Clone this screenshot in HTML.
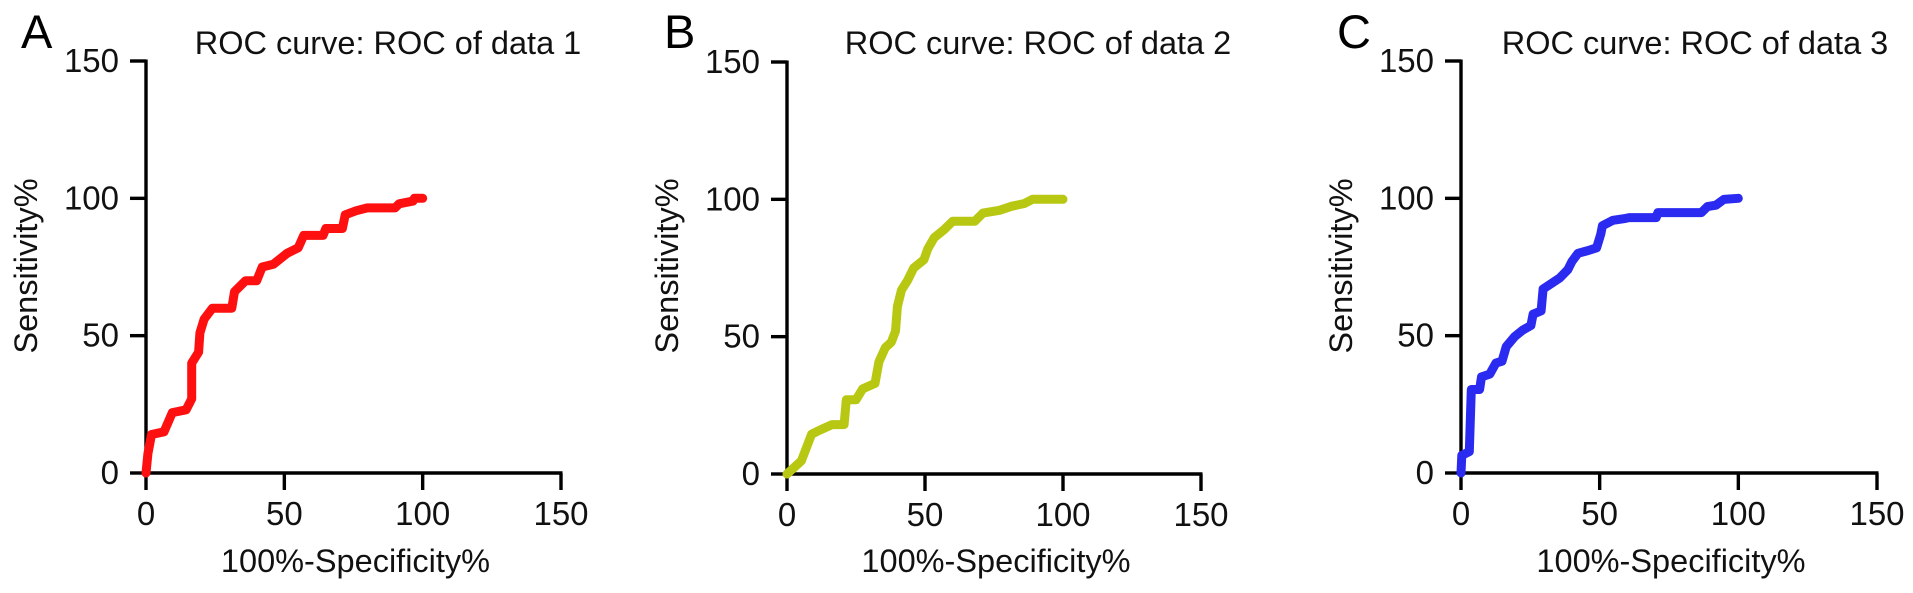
<!DOCTYPE html>
<html><head><meta charset="utf-8"><style>
html,body{margin:0;padding:0;background:#fff;}
svg{display:block;font-family:"Liberation Sans",Arial,sans-serif;}
</style></head><body>
<svg id="fig" width="1913" height="593" viewBox="0 0 1913 593" xmlns="http://www.w3.org/2000/svg"></svg>
<script>
const xTicks = [0, 50, 100, 150];
const yTicks = [0, 50, 100, 150];
const panelLetters = ["A", "B", "C"];
const panelTitles = ["ROC curve: ROC of data 1", "ROC curve: ROC of data 2", "ROC curve: ROC of data 3"];
const seriesColors = ["#ff1010", "#b8c812", "#2a2af0"];
const fprA = [0,0.7,2,6.5,9.5,14.5,16.5,16.5,19,19.5,21,24,31,32,36,40,42,46,51,55,57,64,65,71,72,76,80,90,91.5,96.5,97,100];
const tprA = [0,7,14,15,22,23,27,40,44,51,56,60,60,66,70,70,75,76,80,82,86.5,86.5,89,89,94,95.5,96.5,96.5,98,99,100,100];
const fprB = [0,5.2,8.9,11.9,16.3,20.7,21.5,25,27.4,31.9,33.3,35.6,37.8,39.3,40,41.5,43.7,45.9,49.6,51,53.3,57,60,68,71,77,81.5,86,89,100];
const tprB = [0,4.8,14.5,16,18,18,27,27,31,33,40.8,46,48,52,61,67,70.5,75,78,82,86,89,92,92,95,96,97.5,98.5,100,100];
const fprC = [0,0.3,3,3.7,6.7,7.4,10.4,12.6,14.8,16.3,19.3,22.2,25.2,26,28.9,29.6,32.6,35.6,38.5,40,42.2,45.9,48.9,50.4,51,54.8,59.3,60.7,70.4,71,86.7,88.9,91.9,94.8,100];
const tprC = [0,6.4,7.8,30.4,30.4,35,36,40,40.7,46,49.6,52,53.7,57.8,59,67,69,71,74,77,80,81,82,87,90,92,92.7,93,93,94.8,94.8,97,97.5,99.6,100];
const fprs = [fprA, fprB, fprC];
const tprs = [tprA, tprB, tprC];

const layout = [
  {ox:146, y0:473, y150:61, x150:561, letterX:21, titleX:388},
  {ox:787, y0:474, y150:62, x150:1201, letterX:664, titleX:1038},
  {ox:1461, y0:473, y150:61, x150:1877, letterX:1337, titleX:1695}
];
const NS = "http://www.w3.org/2000/svg";
const svg = document.getElementById("fig");
function mk(tag, attrs, parent){
  const e = document.createElementNS(NS, tag);
  for (const k in attrs) e.setAttribute(k, attrs[k]);
  (parent||svg).appendChild(e);
  return e;
}
layout.forEach((L, i) => {
  const g = mk("g", {});
  
  
  const xs = v => L.ox + (v/150)*(L.x150 - L.ox);
  const ys = v => L.y0 - (v/150)*(L.y0 - L.y150);

  const letter = mk("text", {x:L.letterX, y:48, "font-size":47, fill:"#000"}, g);
  letter.textContent = panelLetters[i];
  
  

  const title = mk("text", {x:L.titleX, y:54, "font-size":32.5, "text-anchor":"middle", fill:"#111"}, g);
  title.textContent = panelTitles[i];
  
  

  const yAxis = mk("line", {x1:L.ox, y1:L.y150-1.5, x2:L.ox, y2:L.y0+1.5, stroke:"#000", "stroke-width":3.4}, g);
  
  
  const xAxis = mk("line", {x1:L.ox-1.5, y1:L.y0, x2:L.x150+1.5, y2:L.y0, stroke:"#000", "stroke-width":3.4}, g);
  
  

  yTicks.forEach(t => {
    const y = ys(t);
    const tk = mk("line", {x1:L.ox-16, y1:y, x2:L.ox, y2:y, stroke:"#000", "stroke-width":3.4}, g);
    
    
    const lb = mk("text", {x:L.ox-27, y:y+11, "font-size":33, "text-anchor":"end", fill:"#111"}, g);
    lb.textContent = t;
    
    
  });
  xTicks.forEach(t => {
    const x = xs(t);
    const tk = mk("line", {x1:x, y1:L.y0, x2:x, y2:L.y0+17, stroke:"#000", "stroke-width":3.4}, g);
    
    
    const lb = mk("text", {x:x, y:L.y0+52, "font-size":33, "text-anchor":"middle", fill:"#111"}, g);
    lb.textContent = t;
    
    
  });
  const xt = mk("text", {x:xs(75)+2, y:572, "font-size":32.5, "text-anchor":"middle", fill:"#111"}, g);
  xt.textContent = "100%-Specificity%";
  
  
  const yc = 266;
  const ytX = L.ox - 109;
  const yt = mk("text", {x:ytX, y:yc, "font-size":32.5, "text-anchor":"middle", fill:"#111", transform:"rotate(-90 "+ytX+" "+yc+")"}, g);
  yt.textContent = "Sensitivity%";
  
  

  const f = fprs[i], tp = tprs[i];
  let d = "";
  for (let k = 0; k < f.length; k++) d += (k ? "L" : "M") + xs(f[k]).toFixed(1) + " " + ys(tp[k]).toFixed(1);
  const line = mk("path", {d:d, fill:"none", stroke:seriesColors[i], "stroke-width":9, "stroke-linejoin":"round", "stroke-linecap":"round"}, g);
  
  
});
</script>
</body></html>
